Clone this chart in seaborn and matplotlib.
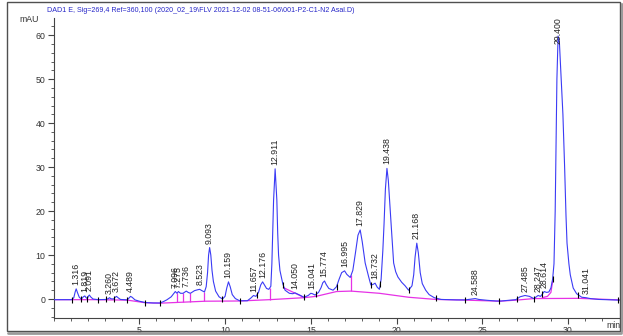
import numpy as np
import pandas as pd
import matplotlib
matplotlib.use("Agg")
import matplotlib.pyplot as plt
import seaborn as sns
from matplotlib.patches import Rectangle
from matplotlib.ticker import MultipleLocator

title_text = r"DAD1 E, Sig=269,4 Ref=360,100 (2020_02_19\FLV 2021-12-02 08-51-06\001-P2-C1-N2 Asal.D)"

# signal trace (min, mAU)
trace_time = [0.0, 0.6, 1.05, 1.18, 1.26, 1.32, 1.4, 1.5, 1.62, 1.74, 1.82, 1.9, 1.97, 2.04, 2.09, 2.16,
              2.3, 2.6, 3.05, 3.2, 3.26, 3.35, 3.5, 3.6, 3.67, 3.76, 3.9, 4.3, 4.42, 4.49, 4.58, 4.75,
              5.0, 5.35, 5.8, 6.2, 6.4, 6.6, 6.86, 7.0, 7.1, 7.2, 7.28, 7.4, 7.55, 7.66, 7.74, 7.85,
              7.98, 8.22, 8.4, 8.52, 8.65, 8.8, 8.9, 8.98, 9.04, 9.1, 9.17, 9.24, 9.32, 9.45, 9.65,
              9.85, 10.0, 10.1, 10.2, 10.3, 10.42, 10.6, 10.85, 11.3, 11.5, 11.66, 11.8, 11.95, 12.08,
              12.19, 12.3, 12.42, 12.55, 12.67, 12.73, 12.78, 12.83, 12.92, 13.02, 13.07, 13.12, 13.2,
              13.37, 13.5, 13.75, 13.95, 14.08, 14.3, 14.6, 14.85, 15.0, 15.1, 15.25, 15.45, 15.6,
              15.7, 15.8, 15.9, 16.05, 16.3, 16.5, 16.65, 16.8, 16.97, 17.1, 17.3, 17.45, 17.6, 17.75,
              17.88, 18.0, 18.17, 18.37, 18.5, 18.62, 18.75, 18.87, 19.0, 19.1, 19.2, 19.27, 19.35,
              19.44, 19.52, 19.6, 19.7, 19.83, 19.95, 20.08, 20.3, 20.5, 20.7, 20.9, 21.0, 21.08,
              21.18, 21.27, 21.38, 21.5, 21.7, 21.9, 22.2, 22.6, 23.5, 24.0, 24.4, 24.59, 24.8, 25.3,
              25.8, 26.1, 26.5, 26.95, 27.2, 27.49, 27.75, 28.0, 28.15, 28.25, 28.4, 28.61, 28.75,
              28.88, 29.0, 29.1, 29.18, 29.25, 29.3, 29.35, 29.42, 29.5, 29.6, 29.7, 29.8, 29.88,
              29.94, 30.05, 30.13, 30.3, 30.5, 30.8, 31.04, 31.3, 31.8, 33.0]
trace_mau = [-0.15, -0.15, -0.15, 0.3, 1.6, 2.3, 1.4, 0.4, 0.0, 0.5, 0.7, 0.3, 0.1, 0.7, 0.9, 0.5,
             0.0, -0.15, -0.1, 0.1, 0.3, 0.05, 0.0, 0.4, 0.6, 0.3, -0.1, -0.2, 0.3, 0.6, 0.4, -0.2,
             -0.5, -0.8, -0.9, -0.9, -0.6, -0.2, 0.5, 1.2, 1.7, 1.3, 1.7, 1.3, 1.3, 1.6, 1.8, 1.5,
             1.3, 1.9, 2.1, 2.2, 1.9, 1.6, 2.8, 6.0, 10.0, 11.7, 10.0, 6.5, 4.0, 1.8, 0.5,
             0.0, 0.6, 2.5, 3.9, 2.8, 1.0, 0.1, -0.4, -0.4, 0.2, 0.8, 0.6, 1.5, 3.2,
             3.9, 3.2, 2.4, 2.2, 2.9, 8.0, 15.0, 22.5, 29.6, 22.5, 15.0, 10.0, 6.5,
             3.4, 2.0, 1.3, 1.2, 1.4, 1.0, 0.4, 0.8, 1.3, 1.2, 0.9, 1.5, 2.6,
             3.7, 4.1, 3.3, 2.4, 2.0, 2.8, 4.5, 6.0, 6.4, 5.6, 4.9, 6.5, 10.4, 14.5,
             15.7, 13.0, 8.2, 5.1, 3.2, 3.3, 3.6, 2.7, 2.2, 4.5, 11.0, 17.0, 25.0,
             29.7, 27.0, 22.0, 16.0, 8.2, 6.2, 5.0, 3.8, 3.0, 2.0, 3.0, 5.5, 9.5,
             12.7, 10.5, 6.0, 3.5, 2.0, 1.0, 0.3, -0.1, -0.2, -0.2, 0.0, 0.1, -0.1, -0.3,
             -0.45, -0.45, -0.3, -0.15, 0.5, 0.8, 0.6, 0.1, 0.5, 0.8, 0.6, 1.7, 1.5,
             1.6, 2.5, 4.5, 8.0, 20.0, 35.0, 50.0, 59.8, 58.0, 50.0, 42.0, 30.0, 19.0,
             12.7, 8.0, 5.5, 2.5, 1.2, 0.4, 0.3, 0.1, -0.1, -0.25]

# integration baseline (magenta)
base_time = [0.0, 1.05, 2.3, 4.3, 5.35, 6.2, 8.85, 10.85, 12.6, 14.6, 15.3, 16.5, 17.35, 19.0,
             20.7, 22.3, 24.0, 26.0, 27.0, 28.0, 30.6, 33.0]
base_mau = [-0.15, -0.15, -0.15, -0.25, -0.85, -0.95, -0.5, -0.45, -0.15, 0.3, 0.6, 1.7, 1.8, 1.3,
            0.4, -0.1, -0.25, -0.5, -0.25, 0.1, 0.15, -0.2]
skim1_time = [13.4, 14.6]
skim1_mau = [2.6, 0.35]
skim2_time = [28.5, 28.8, 29.0, 29.1]
skim2_mau = [0.3, 0.6, 1.5, 4.0]
drop_time = [7.2, 7.55, 7.98, 8.8, 12.6, 17.35]
boundary_time = [1.05, 1.62, 1.97, 2.6, 3.05, 3.5, 4.3, 5.35, 6.2, 9.85, 10.85, 11.86, 13.4,
                 14.6, 15.3, 16.5, 18.5, 19.05, 20.7, 22.3, 24.0, 26.0, 27.0, 28.0, 28.5, 29.1,
                 30.6, 32.9]

# peak table
peak_rt = ["1.316", "1.819", "2.091", "3.260", "3.672", "4.489", "7.096", "7.275", "7.736",
           "8.523", "9.093", "10.159", "11.657", "12.176", "12.911", "14.050", "15.041",
           "15.774", "16.995", "17.829", "18.732", "19.438", "21.168", "24.588", "27.485",
           "28.247", "28.614", "29.400", "31.041"]
peak_height = [2.3, 0.7, 0.9, 0.3, 0.6, 0.6, 1.7, 1.7, 1.8, 2.2, 11.7, 3.9, 0.8, 3.9, 29.6,
               1.4, 1.3, 4.1, 6.4, 15.7, 3.6, 29.7, 12.7, 0.1, 0.8, 0.8, 1.7, 59.8, 0.3]

sns.set_style("ticks")
plt.rcParams["font.family"] = ["Liberation Sans", "DejaVu Sans"]

fig = plt.figure(figsize=(6.23, 3.36), dpi=100)
ax = fig.add_axes([53.55 / 623, (336 - 317.7) / 336, (619.5 - 53.55) / 623, (317.7 - 18) / 336])

trace_df = pd.DataFrame({"t": trace_time, "v": trace_mau})
base_df = pd.DataFrame({"t": base_time, "v": base_mau})
blue = "#3b3bf5"
mag = "#e632e6"
sns.lineplot(data=base_df, x="t", y="v", ax=ax, color=mag, lw=0.9, sort=False, zorder=2)
sns.lineplot(x=skim1_time, y=skim1_mau, ax=ax, color=mag, lw=0.9, sort=False, zorder=2)
sns.lineplot(x=skim2_time, y=skim2_mau, ax=ax, color=mag, lw=0.9, sort=False, zorder=2)
for t in drop_time:
    ax.vlines(t, np.interp(t, base_time, base_mau), np.interp(t, trace_time, trace_mau),
              color=mag, lw=0.9, zorder=2)
sns.lineplot(data=trace_df, x="t", y="v", ax=ax, color=blue, lw=0.8, sort=False, zorder=3)
ax.plot(boundary_time, np.interp(boundary_time, trace_time, trace_mau), ls="none",
        marker="|", ms=4, mew=0.8, color="black", zorder=4)

ymin, ymax = -4.25, 63.9
ax.set_xlim(0, 33)
ax.set_ylim(ymin, ymax)
for lab, h in zip(peak_rt, peak_height):
    y = min(h + 0.9, ymax - 6.0)
    ax.text(float(lab), y, lab, rotation=90, ha="center", va="bottom", fontsize=6.3,
            color="#222222", clip_on=False, zorder=5)

ax.xaxis.set_major_locator(MultipleLocator(5))
ax.xaxis.set_minor_locator(MultipleLocator(1))
ax.yaxis.set_major_locator(MultipleLocator(10))
ax.yaxis.set_minor_locator(MultipleLocator(2))
ax.set_xticks([5, 10, 15, 20, 25, 30])
ax.tick_params(axis="both", which="major", length=4, width=0.8, color="#444444",
               labelsize=6.3, labelcolor="#333333", pad=2)
ax.tick_params(axis="both", which="minor", length=2.5, width=0.6, color="#444444")
for s in ["top", "right"]:
    ax.spines[s].set_visible(False)
for s in ["left", "bottom"]:
    ax.spines[s].set_color("#444444")
    ax.spines[s].set_linewidth(0.8)
ax.set_xlabel("")
ax.set_ylabel("")
ax.patch.set_alpha(0)

fig.text(39 / 623, 1 - 20 / 336, "mAU", ha="right", va="center", fontsize=6.3, color="#333333")
fig.text(621 / 623, 1 - 326 / 336, "min", ha="right", va="center", fontsize=6.3, color="#333333")
fig.text(47 / 623, 1 - 10 / 336, title_text, ha="left", va="center", fontsize=5.1, color="#2626c8")

fig.add_artist(Rectangle((7 / 623, 1 - 331 / 336), (620 - 7) / 623, (331 - 2) / 336,
                         transform=fig.transFigure, fill=False, ec="#505050", lw=1.0))
fig.add_artist(plt.Line2D([8 / 623, 621 / 623], [1 - 332.5 / 336] * 2, transform=fig.transFigure,
                          color="#9a9a9a", lw=2))
fig.add_artist(plt.Line2D([621.5 / 623] * 2, [1 - 4 / 336, 1 - 332 / 336], transform=fig.transFigure,
                          color="#9a9a9a", lw=1.5))

fig.savefig("out.png", dpi=100)
